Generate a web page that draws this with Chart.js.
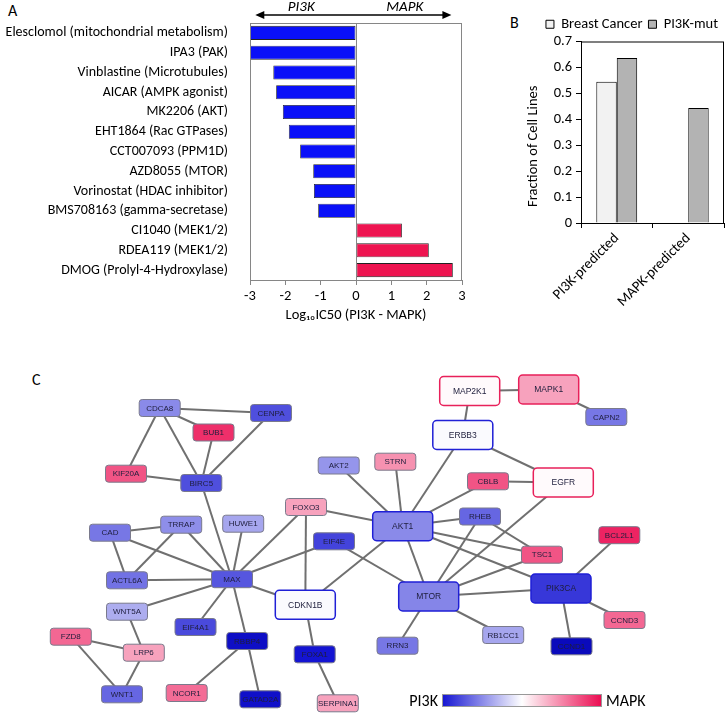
<!DOCTYPE html>
<html>
<head>
<meta charset="utf-8">
<script src="https://cdn.jsdelivr.net/npm/chart.js@4.4.1/dist/chart.umd.min.js"></script>
<style>
  html, body { margin: 0; padding: 0; background: #fff; }
  body { width: 726px; height: 713px; position: relative; overflow: hidden;
         font-family: Carlito, 'Liberation Sans', Arial, sans-serif; }
  canvas { position: absolute; }
  .tag { position: absolute; font-size: 16px; color: #000; line-height: 1; }
</style>
</head>
<body>
<div class="tag" style="left:8px; top:3px">A</div>
<div class="tag" style="left:510px; top:15px">B</div>
<div class="tag" style="left:32px; top:372px">C</div>
<canvas id="drugChart" width="470" height="330" style="left:0; top:0"></canvas>
<canvas id="fractionChart" width="256" height="330" style="left:470px; top:0"></canvas>
<canvas id="networkChart" width="726" height="373" style="left:0; top:340px"></canvas>
<script>
// ---- Panel A data
const drugs = [
  'Elesclomol (mitochondrial metabolism)', 'IPA3 (PAK)', 'Vinblastine (Microtubules)',
  'AICAR (AMPK agonist)', 'MK2206 (AKT)', 'EHT1864 (Rac GTPases)', 'CCT007093 (PPM1D)',
  'AZD8055 (MTOR)', 'Vorinostat (HDAC inhibitor)', 'BMS708163 (gamma-secretase)',
  'CI1040 (MEK1/2)', 'RDEA119 (MEK1/2)', 'DMOG (Prolyl-4-Hydroxylase)'
];
const log10IC50Diff = [-3.0, -3.0, -2.34, -2.26, -2.07, -1.9, -1.58, -1.21, -1.19, -1.07, 1.30, 2.06, 2.74];
const diffTicks = [-3, -2, -1, 0, 1, 2, 3];

// ---- Panel B data
const cellGroups = ['PI3K-predicted', 'MAPK-predicted'];
const breastCancerFraction = [0.545, 0];
const pi3kMutFraction = [0.636, 0.444];
const fractionTicks = [0, 0.1, 0.2, 0.3, 0.4, 0.5, 0.6, 0.7];

// ---- Panel C data (layout coordinates and PI3K(-)/MAPK(+) bias score)
const geneNames = ['CDCA8', 'CENPA', 'BUB1', 'KIF20A', 'BIRC5', 'AKT2', 'STRN', 'MAP2K1', 'MAPK1', 'CAPN2',
  'ERBB3', 'CBLB', 'EGFR', 'FOXO3', 'AKT1', 'RHEB', 'TSC1', 'BCL2L1', 'CAD', 'TRRAP',
  'HUWE1', 'EIF4E', 'ACTL6A', 'MAX', 'CDKN1B', 'MTOR', 'PIK3CA', 'WNT5A', 'EIF4A1', 'RBBP4',
  'FZD8', 'LRP6', 'FOXA1', 'RRN3', 'RB1CC1', 'CCND3', 'CCND1', 'WNT1', 'NCOR1', 'GATAD2A', 'SERPINA1'];
const geneX = [159.7, 271, 213.5, 126, 201.3, 338.7, 395.3, 469.7, 548.7, 606.3,
  462.8, 488, 563.3, 306, 402.7, 480, 542, 619.3, 110, 181.2,
  243.2, 334, 127, 232, 305.3, 428.7, 561, 127, 195.5, 247.2,
  70.8, 143.8, 314.7, 397.5, 503.2, 624.5, 571.5, 122, 186.7, 260.3, 337.8];
const geneY = [408, 413, 432.5, 473.7, 483, 465.5, 461.7, 391, 389.5, 417,
  435, 481.3, 482.5, 507, 526.2, 516.5, 554.7, 535.2, 532.7, 524.7,
  523.7, 541.3, 580.3, 579.2, 604.8, 596.5, 588.5, 611.7, 627, 641,
  636.7, 652.7, 654.3, 645.7, 635, 620, 646.3, 694.3, 693, 699.3, 703.3];
const geneScore = [-0.5, -0.75, 0.85, 0.7, -0.75, -0.45, 0.45, 0.02, 0.38, -0.58,
  -0.02, 0.7, 0.02, 0.38, -0.5, -0.65, 0.7, 0.9, -0.58, -0.48,
  -0.38, -0.8, -0.6, -0.72, -0.02, -0.52, -0.85, -0.35, -0.77, -1.15,
  0.62, 0.38, -1.0, -0.58, -0.38, 0.62, -1.25, -0.65, 0.6, -1.1, 0.38];
const coreGenes = ['MAP2K1', 'MAPK1', 'ERBB3', 'EGFR', 'AKT1', 'MTOR', 'PIK3CA', 'CDKN1B'];
const interactions = [
  ['CDCA8', 'CENPA'], ['CDCA8', 'BUB1'], ['CDCA8', 'KIF20A'], ['CDCA8', 'BIRC5'], ['BUB1', 'BIRC5'],
  ['CENPA', 'BIRC5'], ['KIF20A', 'BIRC5'], ['BIRC5', 'MAX'],
  ['CAD', 'TRRAP'], ['CAD', 'ACTL6A'], ['CAD', 'MAX'], ['TRRAP', 'ACTL6A'], ['TRRAP', 'MAX'],
  ['HUWE1', 'MAX'], ['FOXO3', 'MAX'], ['FOXO3', 'CDKN1B'], ['FOXO3', 'AKT1'], ['EIF4E', 'MAX'],
  ['EIF4E', 'MTOR'], ['ACTL6A', 'MAX'], ['MAX', 'WNT5A'], ['MAX', 'EIF4A1'], ['MAX', 'RBBP4'],
  ['MAX', 'CDKN1B'], ['CDKN1B', 'AKT1'], ['CDKN1B', 'FOXA1'], ['FOXA1', 'SERPINA1'],
  ['WNT5A', 'LRP6'], ['FZD8', 'LRP6'], ['FZD8', 'WNT1'], ['LRP6', 'WNT1'],
  ['RBBP4', 'NCOR1'], ['RBBP4', 'GATAD2A'],
  ['AKT2', 'AKT1'], ['STRN', 'AKT1'], ['ERBB3', 'AKT1'], ['CBLB', 'AKT1'], ['MAP2K1', 'ERBB3'],
  ['MAP2K1', 'MAPK1'], ['MAPK1', 'CAPN2'], ['ERBB3', 'EGFR'], ['CBLB', 'EGFR'], ['EGFR', 'MTOR'],
  ['AKT1', 'RHEB'], ['AKT1', 'TSC1'], ['AKT1', 'PIK3CA'], ['AKT1', 'MTOR'], ['RHEB', 'MTOR'],
  ['RHEB', 'TSC1'], ['TSC1', 'MTOR'], ['MTOR', 'PIK3CA'], ['MTOR', 'RRN3'], ['MTOR', 'RB1CC1'],
  ['PIK3CA', 'BCL2L1'], ['PIK3CA', 'CCND3'], ['PIK3CA', 'CCND1']
];

const FONT = "Carlito, 'Liberation Sans', Arial, sans-serif";
const TXT = 14.5;
Chart.defaults.font.family = FONT;
Chart.defaults.color = '#000';

// blue (PI3K) -> white -> red (MAPK)
const BLUE = [20, 20, 210], DEEP_BLUE = [0, 0, 165], RED = [235, 10, 80];
function mix(a, b, t) {
  return a.map((v, i) => Math.round(v + (b[i] - v) * t));
}
function biasColor(s) {
  let c;
  if (s >= 0) c = mix([255, 255, 255], RED, Math.min(s, 1));
  else if (s >= -1) c = mix([255, 255, 255], BLUE, -s);
  else c = mix(BLUE, DEEP_BLUE, Math.min((-s - 1) / 0.5, 1));
  return `rgb(${c[0]}, ${c[1]}, ${c[2]})`;
}

// ---- Panel A
const drugFrame = {
  id: 'drugFrame',
  afterDatasetsDraw(chart) {
    const { ctx, chartArea: a, scales: { x } } = chart;
    ctx.save();
    ctx.strokeStyle = '#868686';
    ctx.lineWidth = 1;
    ctx.strokeRect(a.left + 0.5, a.top + 0.5, a.right - a.left - 1, a.bottom - a.top);
    const x0 = Math.round(x.getPixelForValue(0)) + 0.5;
    ctx.beginPath();
    ctx.moveTo(x0, a.top);
    ctx.lineTo(x0, a.bottom);
    ctx.stroke();

    // direction arrow
    const y = a.top - 8;
    const xl = x.getPixelForValue(-2.85), xr = x.getPixelForValue(2.7);
    ctx.strokeStyle = '#000';
    ctx.fillStyle = '#000';
    ctx.lineWidth = 1.3;
    ctx.beginPath();
    ctx.moveTo(xl + 6, y);
    ctx.lineTo(xr - 6, y);
    ctx.stroke();
    ctx.beginPath();
    ctx.moveTo(xl, y); ctx.lineTo(xl + 9, y - 4); ctx.lineTo(xl + 9, y + 4); ctx.closePath();
    ctx.moveTo(xr, y); ctx.lineTo(xr - 9, y - 4); ctx.lineTo(xr - 9, y + 4); ctx.closePath();
    ctx.fill();
    ctx.font = 'italic 15px ' + FONT;
    ctx.textAlign = 'center';
    ctx.textBaseline = 'middle';
    ctx.fillText('PI3K', x.getPixelForValue(-1.55), a.top - 16);
    ctx.fillText('MAPK', x.getPixelForValue(1.38), a.top - 16);
    ctx.restore();
  }
};

new Chart(document.getElementById('drugChart'), {
  type: 'bar',
  data: {
    labels: drugs,
    datasets: [{
      data: log10IC50Diff,
      backgroundColor: log10IC50Diff.map(v => v < 0 ? '#0a10f8' : '#ee1450'),
      borderColor: '#222',
      borderWidth: 0.8,
      borderSkipped: false,
      barPercentage: 0.71,
      categoryPercentage: 1
    }]
  },
  options: {
    indexAxis: 'y',
    responsive: false,
    animation: false,
    layout: { padding: { top: 23, right: 8, left: 0, bottom: 0 } },
    plugins: { legend: { display: false }, tooltip: { enabled: false } },
    scales: {
      x: {
        min: -3, max: 3,
        afterBuildTicks: s => { s.ticks = diffTicks.map(v => ({ value: v })); },
        afterFit: s => { s.height = 50; },
        grid: { drawOnChartArea: false, tickLength: 5, color: '#868686' },
        border: { color: '#868686' },
        ticks: { font: { size: TXT }, padding: 3 },
        title: { display: true, text: 'Log₁₀IC50 (PI3K - MAPK)', font: { size: TXT }, padding: { top: 0, bottom: 6 } }
      },
      y: {
        afterFit: s => { s.width = 250; },
        grid: { display: false },
        border: { display: false },
        ticks: { font: { size: 14 }, padding: 14, autoSkip: false }
      }
    }
  },
  plugins: [drugFrame]
});

// ---- Panel B
const fractionFrame = {
  id: 'fractionFrame',
  afterDatasetsDraw(chart) {
    const { ctx, chartArea: a } = chart;
    ctx.save();
    ctx.strokeStyle = '#000';
    ctx.lineWidth = 1;
    ctx.strokeRect(a.left + 0.5, a.top + 0.5, a.right - a.left - 1, a.bottom - a.top);
    ctx.font = TXT + 'px ' + FONT;
    ctx.fillStyle = '#000';
    ctx.textAlign = 'center';
    ctx.textBaseline = 'middle';
    ctx.translate(63, (a.top + a.bottom) / 2 + 14);
    ctx.rotate(-Math.PI / 2);
    ctx.fillText('Fraction of Cell Lines', 0, 0);
    ctx.restore();
  }
};

new Chart(document.getElementById('fractionChart'), {
  type: 'bar',
  data: {
    labels: cellGroups,
    datasets: [
      { label: 'Breast Cancer', data: breastCancerFraction, backgroundColor: '#f2f2f2', borderColor: '#000', borderWidth: 1 },
      { label: 'PI3K-mut', data: pi3kMutFraction, backgroundColor: '#b3b3b3', borderColor: '#000', borderWidth: 1 }
    ]
  },
  options: {
    responsive: false,
    animation: false,
    layout: { padding: { top: 11, right: 2, left: 0, bottom: 0 } },
    datasets: { bar: { categoryPercentage: 0.572, barPercentage: 1 } },
    plugins: {
      legend: {
        align: 'end',
        labels: { boxWidth: 8, boxHeight: 8, padding: 6, font: { size: TXT }, color: '#000' }
      },
      tooltip: { enabled: false }
    },
    scales: {
      x: {
        afterFit: s => { s.height = 107; },
        grid: { drawOnChartArea: false, tickLength: 5, color: '#000', offset: true },
        border: { color: '#000' },
        ticks: { minRotation: 45, maxRotation: 45, autoSkip: false, font: { size: TXT }, padding: 2 }
      },
      y: {
        min: 0, max: 0.7,
        afterBuildTicks: s => { s.ticks = fractionTicks.map(v => ({ value: v })); },
        afterFit: s => { s.width = 111; },
        grid: { drawOnChartArea: false, tickLength: 5, color: '#000' },
        border: { color: '#000' },
        ticks: { font: { size: TXT }, padding: 4 }
      }
    }
  },
  plugins: [fractionFrame]
});

// ---- Panel C
const geneIndex = Object.fromEntries(geneNames.map((g, i) => [g, i]));
const edgeDatasets = interactions.map(([a, b]) => ({
  data: [
    { x: geneX[geneIndex[a]], y: geneY[geneIndex[a]] },
    { x: geneX[geneIndex[b]], y: geneY[geneIndex[b]] }
  ],
  showLine: true,
  borderColor: '#707070',
  borderWidth: 2,
  pointRadius: 0
}));
const nodeDataset = {
  data: geneNames.map((g, i) => ({ x: geneX[i], y: geneY[i] })),
  pointRadius: 0,
  showLine: false
};

function boxPath(ctx, x, y, w, h, r) {
  ctx.beginPath();
  ctx.moveTo(x + r, y);
  ctx.lineTo(x + w - r, y);
  ctx.arcTo(x + w, y, x + w, y + r, r);
  ctx.lineTo(x + w, y + h - r);
  ctx.arcTo(x + w, y + h, x + w - r, y + h, r);
  ctx.lineTo(x + r, y + h);
  ctx.arcTo(x, y + h, x, y + h - r, r);
  ctx.lineTo(x, y + r);
  ctx.arcTo(x, y, x + r, y, r);
  ctx.closePath();
}

const geneBoxes = {
  id: 'geneBoxes',
  afterDatasetsDraw(chart) {
    const ctx = chart.ctx;
    const meta = chart.getDatasetMeta(chart.data.datasets.length - 1);
    ctx.save();
    ctx.textAlign = 'center';
    ctx.textBaseline = 'middle';
    meta.data.forEach((pt, i) => {
      const name = geneNames[i];
      const core = coreGenes.includes(name);
      const w = core ? 60 : 41, h = core ? 29 : 17, r = core ? 4 : 3;
      boxPath(ctx, pt.x - w / 2, pt.y - h / 2, w, h, r);
      ctx.fillStyle = biasColor(geneScore[i]);
      ctx.fill();
      ctx.lineWidth = core ? 1.5 : 1;
      ctx.strokeStyle = core ? (geneScore[i] < 0 ? '#1f1fd6' : '#e8205a') : '#7a7a8c';
      ctx.stroke();
      ctx.fillStyle = '#1e1e3c';
      ctx.font = (core ? '8.5px ' : '8px ') + "'Liberation Sans', Arial, sans-serif";
      ctx.fillText(name, pt.x, pt.y + 0.5);
    });

    // colour key
    const kx = 442, ky = 694 - 340, kw = 160, kh = 13;
    const grad = ctx.createLinearGradient(kx, 0, kx + kw, 0);
    grad.addColorStop(0, biasColor(-1));
    grad.addColorStop(0.5, '#ffffff');
    grad.addColorStop(1, biasColor(1));
    ctx.fillStyle = grad;
    ctx.fillRect(kx, ky, kw, kh);
    ctx.strokeStyle = '#999';
    ctx.lineWidth = 1;
    ctx.strokeRect(kx + 0.5, ky + 0.5, kw - 1, kh - 1);
    ctx.fillStyle = '#000';
    ctx.font = '16px ' + FONT;
    ctx.textAlign = 'right';
    ctx.fillText('PI3K', kx - 4, ky + kh / 2 + 1);
    ctx.textAlign = 'left';
    ctx.fillText('MAPK', kx + kw + 4, ky + kh / 2 + 1);
    ctx.restore();
  }
};

new Chart(document.getElementById('networkChart'), {
  type: 'scatter',
  data: { datasets: [...edgeDatasets, nodeDataset] },
  options: {
    responsive: false,
    animation: false,
    layout: { padding: 0 },
    plugins: { legend: { display: false }, tooltip: { enabled: false } },
    scales: {
      x: { type: 'linear', min: 0, max: 726, display: false },
      y: { type: 'linear', min: 340, max: 713, reverse: true, display: false }
    }
  },
  plugins: [geneBoxes]
});
</script>
</body>
</html>
